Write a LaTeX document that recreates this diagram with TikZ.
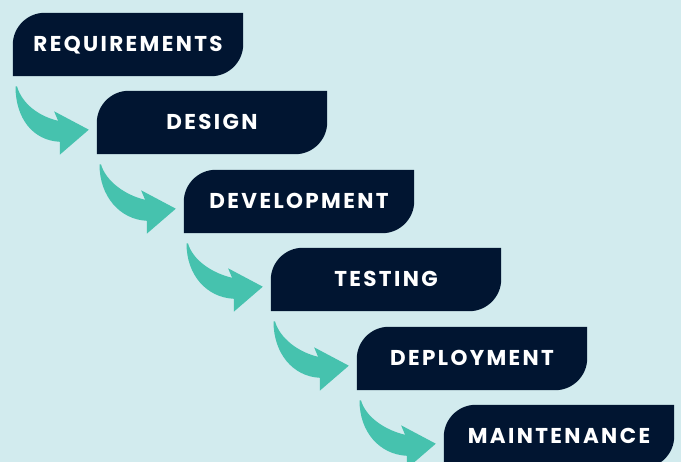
\documentclass[tikz,border=0pt]{standalone}
\usepackage{fontspec}
\usepackage{xcolor}
\newfontfamily\stagefont{Poppins}[LetterSpace=11]
\usetikzlibrary{calc,backgrounds}
\definecolor{bgblue}{HTML}{D2EBEE}
\definecolor{navy}{HTML}{011531}
\definecolor{flowteal}{HTML}{46C2AE}

\begin{document}
\begin{tikzpicture}[x=1pt,y=-1pt,
  stage/.style={minimum width=230pt,minimum height=63pt,inner sep=0pt,text=white,
    font=\stagefont\bfseries\fontsize{21.5}{21.5}\selectfont,text height=15pt,text depth=0pt}]
\useasboundingbox (0,0) rectangle (681,462);
\clip (0,0) rectangle (681,462);

\foreach \nm/\x/\y/\txt in {req/128/44.5/REQUIREMENTS,des/212/122.5/DESIGN,dev/299/201.5/DEVELOPMENT,
  tst/386/279.5/TESTING,dep/472/358.5/DEPLOYMENT,mnt/559/436.5/MAINTENANCE}
  \node[stage] (\nm) at (\x,\y) {\txt};

\begin{scope}[on background layer]
\fill[bgblue] (0,0) rectangle (681,462);
\foreach \nm in {req,des,dev,tst,dep,mnt}
  \fill[navy] (\nm.south west) -- ([yshift=-32pt]\nm.north west) arc[start angle=180,end angle=90,radius=32pt]
    -- (\nm.north east) -- ([yshift=32pt]\nm.south east) arc[start angle=0,end angle=-90,radius=32pt] -- cycle;
\end{scope}

% arrows
\foreach \a/\b in {req/des,des/dev,dev/tst,tst/dep,dep/mnt} {
  \coordinate (t) at ($(\a.south west)+(2.7,10.3)$);
  \fill[flowteal] (t) -- ++(1.5,0) .. controls +(5,16.7) and +(-20.3,-4.8) .. ($(\b.west)+(-38.7,-1.7)$)
    -- ($(\b.west)+(-42.7,-11.2)$) -- ($(\b.west)+(-8,7.2)$) -- ($(\b.west)+(-37,32.2)$)
    -- ($(\b.west)+(-37,19.3)$) .. controls +(-27,-1.3) and +(0,31.7) .. (t) -- cycle;
}
\end{tikzpicture}
\end{document}
